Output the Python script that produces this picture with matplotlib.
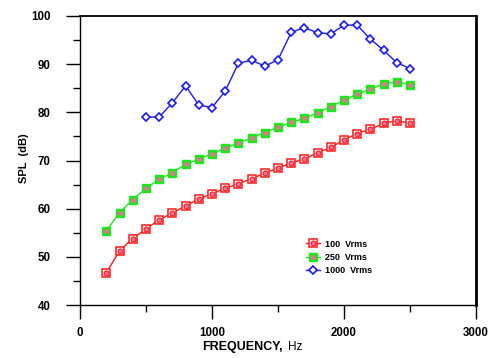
import matplotlib
matplotlib.use("Agg")
import matplotlib.pyplot as plt
from matplotlib.ticker import MultipleLocator

plt.rcParams['font.family'] = ['Liberation Sans', 'DejaVu Sans']

freq_rg = [200, 300, 400, 500, 600, 700, 800, 900, 1000, 1100, 1200, 1300,
           1400, 1500, 1600, 1700, 1800, 1900, 2000, 2100, 2200, 2300, 2400, 2500]
spl_100 = [46.7, 51.3, 53.8, 55.8, 57.7, 59.1, 60.6, 62.0, 63.1, 64.2, 65.2, 66.2,
           67.4, 68.4, 69.5, 70.3, 71.6, 72.7, 74.3, 75.6, 76.5, 77.7, 78.3, 77.7]
spl_250 = [55.4, 59.2, 61.9, 64.2, 66.1, 67.5, 69.2, 70.3, 71.4, 72.6, 73.6, 74.7,
           75.8, 76.9, 77.9, 78.8, 79.9, 81.2, 82.5, 83.8, 84.8, 85.9, 86.4, 85.7]
freq_b = [500, 600, 700, 800, 900, 1000, 1100, 1200, 1300, 1400, 1500,
          1600, 1700, 1800, 1900, 2000, 2100, 2200, 2300, 2400, 2500]
spl_1000 = [79.0, 79.0, 82.0, 85.5, 81.5, 81.0, 84.4, 90.2, 90.8, 89.6, 90.9,
            96.6, 97.6, 96.5, 96.3, 98.1, 98.1, 95.2, 92.9, 90.3, 89.1]
labels = ["100  Vrms", "250  Vrms", "1000  Vrms"]

RED = '#ff1a1a'
GREEN = '#1ee61e'
BLUE = '#1a1aee'
PINK = '#ee6f9a'

fig = plt.figure(figsize=(4.9, 3.58), dpi=100)
ax = fig.add_axes([80/490, 53/358, 396/490, 289/358])

l1, = ax.plot(freq_rg, spl_100, color=RED, lw=1.0, marker='s', ms=6.3,
              mfc='white', mec=RED, mew=1.1, zorder=3)
d1, = ax.plot(freq_rg, spl_100, ls='none', marker='o', ms=3.6,
              mfc=PINK, mec=RED, mew=0.8, zorder=4)
l2, = ax.plot(freq_rg, spl_250, color=GREEN, lw=1.0, marker='s', ms=6.3,
              mfc=GREEN, mec=GREEN, zorder=3)
d2, = ax.plot(freq_rg, spl_250, ls='none', marker='o', ms=2.5,
              mfc=PINK, mec=PINK, zorder=4)
l3, = ax.plot(freq_b, spl_1000, color=BLUE, lw=1.0, marker='D', ms=4.3,
              mfc='white', mec=BLUE, mew=1.2, zorder=3)

ax.set_xlim(0, 3000)
ax.set_ylim(40, 100)
ax.xaxis.set_major_locator(MultipleLocator(1000))
ax.xaxis.set_minor_locator(MultipleLocator(500))
ax.yaxis.set_major_locator(MultipleLocator(10))
ax.yaxis.set_minor_locator(MultipleLocator(5))
ax.tick_params(which='major', direction='out', length=10, width=1.0)
ax.tick_params(which='minor', direction='out', length=5, width=1.0)
ax.tick_params(axis='y', which='major', pad=11)
ax.tick_params(axis='x', which='major', pad=6)
ax.tick_params(top=False, right=False, which='both')
for lab in ax.get_xticklabels() + ax.get_yticklabels():
    lab.set_fontsize(8.3)
    lab.set_fontweight('bold')

ax.spines['left'].set_linewidth(1.0)
ax.spines['bottom'].set_linewidth(1.0)
ax.spines['top'].set_linewidth(1.3)
ax.spines['right'].set_linewidth(2.0)

fig.text(202/490, 1 - 347/358, "FREQUENCY,", fontsize=9, fontweight='bold',
         ha='left', va='center')
fig.text(288/490, 1 - 347/358, "Hz", fontsize=8.5, ha='left', va='center')
fig.text(24/490, 1 - 158/358, "SPL  (dB)", fontsize=8, fontweight='bold',
         rotation=90, ha='center', va='center')

leg = ax.legend([(l1, d1), (l2, d2), (l3,)], labels,
                loc='upper left', bbox_to_anchor=((302-80)/396, (305-236)/289),
                frameon=False, borderaxespad=0, handlelength=1.6,
                handletextpad=0.5, labelspacing=0.45,
                prop={'family': 'Liberation Sans', 'weight': 'bold', 'size': 6.5})

fig.savefig("out.png", dpi=100)
